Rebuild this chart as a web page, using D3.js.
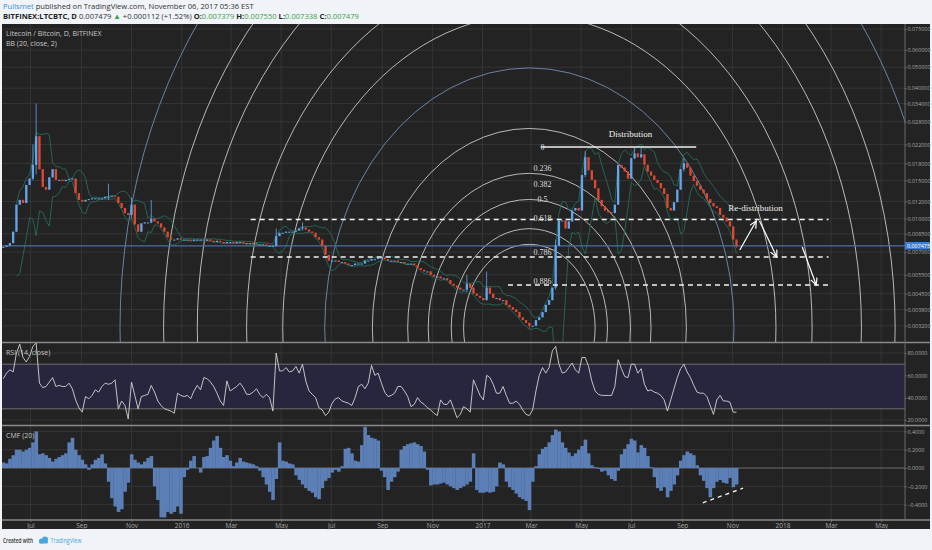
<!DOCTYPE html>
<html>
<head>
<meta charset="utf-8">
<script src="https://d3js.org/d3.v7.min.js"></script>
<style>
  body { margin: 0; background: #f0f3f7; }
  svg { display: block; font-family: "Open Sans", sans-serif; }
</style>
</head>
<body>
<svg id="chart" width="932" height="550"></svg>
<script>
// ---- data (4-day steps from startDate) ----
var startDate = "2015-05-29";
var stepDays = 4;

var closes = [
  0.0074,0.0075,0.0077,0.0087,0.0116,0.0122,0.0118,0.0143,0.0153,0.0177,
  0.0240,0.0169,0.0140,0.0136,0.0155,0.0169,0.0151,0.0151,0.0149,0.0151,
  0.0152,0.0153,0.0131,0.0122,0.0120,0.0122,0.0123,0.0124,0.0124,0.0124,
  0.0124,0.0126,0.0126,0.0127,0.0126,0.0118,0.0112,0.0106,0.0104,0.0116,
  0.0094,0.0087,0.0095,0.0096,0.0096,0.0100,0.0097,0.0095,0.0091,0.0087,
  0.0082,0.0080,0.0080,0.0081,0.0080,0.0080,0.0080,0.0079,0.0080,0.0080,
  0.0080,0.0079,0.0080,0.0079,0.0078,0.0079,0.0078,0.0077,0.0078,0.0078,
  0.0077,0.0078,0.0078,0.0077,0.0077,0.0077,0.0077,0.0076,0.0076,0.0076,
  0.0075,0.0075,0.0075,0.0083,0.0086,0.0086,0.0087,0.0087,0.0087,0.0088,
  0.0090,0.0091,0.0089,0.0087,0.0086,0.0082,0.0080,0.0075,0.0068,0.0064,
  0.0064,0.0064,0.0063,0.0063,0.0062,0.0061,0.0061,0.0062,0.0062,0.0062,
  0.0064,0.0064,0.0065,0.0065,0.0066,0.0066,0.0065,0.0064,0.0064,0.0064,
  0.0063,0.0063,0.0062,0.0062,0.0062,0.0061,0.0059,0.0058,0.0057,0.0057,
  0.0055,0.0054,0.0054,0.0053,0.0053,0.0052,0.0050,0.0049,0.0048,0.0047,
  0.0047,0.0050,0.0048,0.0045,0.0044,0.0043,0.0042,0.0048,0.0045,0.0043,
  0.0043,0.0042,0.0042,0.0040,0.0039,0.0038,0.0037,0.0035,0.0034,0.0033,
  0.0032,0.0032,0.0034,0.0035,0.0037,0.0040,0.0042,0.0048,0.0075,0.0098,
  0.0098,0.0090,0.0097,0.0109,0.0112,0.0109,0.0159,0.0192,0.0167,0.0151,
  0.0138,0.0122,0.0114,0.0109,0.0107,0.0106,0.0116,0.0177,0.0172,0.0165,
  0.0153,0.0190,0.0200,0.0192,0.0198,0.0177,0.0165,0.0158,0.0151,0.0146,
  0.0138,0.0130,0.0112,0.0109,0.0119,0.0136,0.0169,0.0180,0.0172,0.0158,
  0.0149,0.0142,0.0136,0.0131,0.0123,0.0118,0.0114,0.0112,0.0104,0.0101,
  0.0097,0.0092,0.0080,0.007479
];

// [index, high, low] for the candles whose wicks stick out
var wicks = [
  [9, 0.0220, 0.0150], [10, 0.0340, 0.0160], [32, 0.0145, 0.0122],
  [39, 0.0125, 0.0100], [45, 0.0122, 0.0095], [83, 0.0090, 0.0074],
  [91, 0.0096, 0.0088], [141, 0.0055, 0.0046], [147, 0.0057, 0.0043],
  [160, 0.0033, 0.0031], [168, 0.0080, 0.0047], [177, 0.0205, 0.0155],
  [192, 0.0212, 0.0188], [194, 0.0212, 0.0190], [207, 0.0190, 0.0165],
  [223, 0.00755, 0.00734]
];

var rsiValues = [
  57,62,65,63,80,88,76,72,77,86,
  89,53,49,50,54,58,50,51,50,50,
  53,48,38,31,27,41,39,42,47,45,
  50,53,52,53,56,30,37,33,21,54,
  42,30,41,42,43,51,45,37,33,30,
  29,28,26,44,42,41,42,39,46,51,
  47,58,57,54,50,44,37,33,55,46,
  48,50,53,49,43,43,45,48,43,40,
  43,40,28,80,64,64,67,63,64,68,
  62,70,55,46,43,40,31,29,24,27,
  35,39,40,37,36,35,33,40,50,52,
  48,53,69,60,62,53,45,41,42,44,
  50,50,46,41,32,34,40,36,34,31,
  29,26,24,38,34,34,38,30,22,25,
  32,30,27,56,49,42,38,60,58,52,
  44,44,50,42,35,35,37,34,29,25,
  24,29,46,60,67,62,67,82,86,70,
  62,63,67,71,65,62,76,76,68,55,
  46,43,42,42,42,42,50,74,66,59,
  58,70,70,62,66,52,46,47,45,44,
  42,38,28,38,48,58,66,70,63,58,
  51,45,44,44,41,33,25,38,42,37,
  37,36,27,27
];

var cmfValues = [
  0.06,0.05,0.10,0.14,0.20,0.20,0.18,0.20,0.22,0.28,
  0.40,0.15,0.16,0.14,0.11,0.07,0.10,0.12,0.14,0.16,
  0.28,0.33,0.20,0.14,0.09,0.04,-0.02,0.04,0.09,0.11,
  0.15,0.05,-0.15,-0.33,-0.42,-0.48,-0.45,-0.26,-0.16,0.15,
  0.09,0.06,0.04,0.07,0.11,0.13,-0.20,-0.35,-0.54,-0.54,
  -0.48,-0.50,-0.48,-0.42,-0.50,-0.10,-0.02,0.08,0.13,0.00,
  -0.05,0.12,0.13,0.22,0.30,0.35,0.22,0.12,0.14,0.08,
  0.02,0.06,0.11,0.07,0.06,0.05,0.04,0.02,-0.03,-0.10,
  -0.18,-0.26,-0.35,-0.12,0.28,0.08,0.07,0.05,0.04,-0.08,
  -0.13,-0.18,-0.22,-0.25,-0.27,-0.32,-0.34,-0.22,-0.14,-0.11,
  -0.05,-0.02,-0.04,0.02,0.21,0.22,0.16,0.08,0.07,0.25,
  0.45,0.36,0.33,0.32,0.30,-0.03,-0.10,-0.24,-0.15,-0.10,
  -0.04,0.20,0.24,0.26,0.27,0.28,0.26,0.24,0.18,-0.02,
  -0.19,-0.18,-0.18,-0.17,-0.16,-0.18,-0.20,-0.22,-0.24,-0.22,
  -0.20,-0.18,-0.15,0.16,-0.24,-0.27,-0.27,-0.26,-0.27,-0.26,
  -0.20,0.06,0.04,-0.15,-0.21,-0.24,-0.28,-0.32,-0.34,-0.36,
  -0.46,-0.15,0.02,0.15,0.21,0.23,0.28,0.36,0.42,0.40,
  0.28,0.22,0.17,0.13,0.16,0.20,0.24,0.31,0.16,0.03,
  0.01,-0.01,-0.04,-0.03,-0.08,-0.12,-0.14,-0.03,0.15,0.21,
  0.26,0.32,0.30,0.17,0.25,0.22,0.13,0.01,-0.10,-0.22,
  -0.25,-0.21,-0.32,-0.25,-0.18,-0.08,0.08,0.14,0.18,0.16,
  0.14,0.03,-0.08,-0.14,-0.22,-0.32,-0.22,-0.15,-0.13,-0.16,
  -0.17,-0.11,-0.21,-0.18
];

var priceTicks = [0.075, 0.06, 0.05, 0.04, 0.034, 0.028, 0.022, 0.018, 0.015,
                  0.012, 0.010, 0.0085, 0.007, 0.0055, 0.0045, 0.0038, 0.0032];
var rsiTicks = [80, 60, 40, 20];
var cmfTicks = [0.4, 0.2, 0, -0.2, -0.4];
var lastPrice = 0.007475;

// drawings
var fibLevels = ["0", "0.236", "0.382", "0.5", "0.618", "0.786", "0.886"];
var fibHigh = 0.0214, fibLow = 0.00306, fibLabelDate = "2017-03-15";
var arcCenter = { date: "2017-02-27", price: 0.00313 };
var arcRadiiDays = [80, 95, 123, 148, 191, 249, 300, 344, 404, 445, 498];
var blueArcs = [249, 498];
var dashedLevels = [
  { from: "2016-03-25", to: "2018-02-26", price: 0.0099 },
  { from: "2016-03-25", to: "2018-02-26", price: 0.00665 },
  { from: "2017-02-01", to: "2018-02-26", price: 0.00494 }
];
var topLine = { from: "2017-03-13", to: "2017-09-18", price: 0.0214 };
var arrows = [
  { d1: "2017-11-10", p1: 0.00716, d2: "2017-11-30", p2: 0.00975 },
  { d1: "2017-12-04", p1: 0.00975, d2: "2017-12-25", p2: 0.00665 },
  { d1: "2018-01-25", p1: 0.00739, d2: "2018-02-11", p2: 0.00494 }
];
var notes = [
  { text: "Distribution", date: "2017-06-30", price: 0.0246 },
  { text: "Re-distribution", date: "2017-11-29", price: 0.0112 }
];
var cmfTrend = { d1: "2017-09-26", v1: -0.38, d2: "2017-11-14", v2: -0.22 };

// ---- layout ----
var plotRight = 905, panelRight = 930;
var mainTop = 24, mainBottom = 342, rsiTop = 343, rsiBottom = 425, cmfTop = 426, cmfBottom = 520;
var bg = "#232323", grid = "#353535", sep = "#8a8a8a", axisText = "#a8a8a8";

var parse = d3.utcParse("%Y-%m-%d");
var svg = d3.select("#chart");

var x = d3.scaleUtc().domain([parse("2015-05-25"), parse("2018-05-30")]).range([0, plotRight]);
var yMain = d3.scaleLog().domain([0.002693, 0.0783]).range([mainBottom, 25]);
var yRsi = d3.scaleLinear().domain([15.5, 89]).range([rsiBottom, rsiTop]);
var yCmf = d3.scaleLinear().domain([-0.568, 0.448]).range([cmfBottom, 427]);

var dates = closes.map(function(c, i) { return d3.utcDay.offset(parse(startDate), i * stepDays); });
var step = x(dates[1]) - x(dates[0]);

// panel background
svg.append("rect").attr("x", 2).attr("y", mainTop).attr("width", panelRight - 2)
  .attr("height", 529 - mainTop).attr("fill", bg);

var defs = svg.append("defs");
function clip(id, top, bottom) {
  defs.append("clipPath").attr("id", id).append("rect")
    .attr("x", 2).attr("y", top).attr("width", plotRight - 2).attr("height", bottom - top);
}
clip("clipMain", mainTop, mainBottom);
clip("clipRsi", rsiTop, rsiBottom);
clip("clipCmf", cmfTop, cmfBottom);
defs.append("marker").attr("id", "head").attr("markerUnits", "userSpaceOnUse")
  .attr("markerWidth", 10).attr("markerHeight", 10).attr("refX", 7).attr("refY", 3.5)
  .attr("orient", "auto")
  .append("path").attr("d", "M0,0 L7,3.5 L0,7").attr("fill", "none")
  .attr("stroke", "#fff").attr("stroke-width", 1.2);

// vertical grid
var timeTicks = x.ticks(d3.utcMonth.every(2));
svg.append("g").selectAll("line").data(timeTicks).join("line")
  .attr("x1", function(d) { return x(d); }).attr("x2", function(d) { return x(d); })
  .attr("y1", mainTop).attr("y2", cmfBottom).attr("stroke", grid);

// horizontal grids
function hgrid(values, scale, color) {
  svg.append("g").selectAll("line").data(values).join("line")
    .attr("x1", 2).attr("x2", plotRight)
    .attr("y1", function(d) { return scale(d); }).attr("y2", function(d) { return scale(d); })
    .attr("stroke", color);
}
hgrid(priceTicks, yMain, grid);
hgrid(rsiTicks, yRsi, grid);
hgrid(cmfTicks.filter(function(d) { return d !== 0; }), yCmf, grid);

// ---- main pane ----
var main = svg.append("g").attr("clip-path", "url(#clipMain)");

// fib arcs
var cx = x(parse(arcCenter.date)), cy = yMain(arcCenter.price);
function arcRx(r) { return x(d3.utcDay.offset(parse(arcCenter.date), r)) - cx; }
main.append("g").selectAll("ellipse").data(arcRadiiDays).join("ellipse")
  .attr("cx", cx).attr("cy", cy)
  .attr("rx", arcRx)
  .attr("ry", function(r) { return arcRx(r) * 1.27; })
  .attr("fill", "none")
  .attr("stroke", function(r) { return blueArcs.indexOf(r) >= 0 ? "#7594ba" : "#d2d2d2"; })
  .attr("stroke-opacity", 0.85).attr("stroke-width", 1);

// bollinger bands (20 days = 5 steps, 2 sd)
var bbN = 5;
var bands = closes.map(function(c, i) {
  if (i < bbN - 1) return null;
  var win = closes.slice(i - bbN + 1, i + 1);
  var m = d3.mean(win);
  var sd = Math.sqrt(d3.mean(win, function(v) { return (v - m) * (v - m); }));
  return { date: dates[i], upper: m + 2 * sd, lower: m - 2 * sd };
});
["upper", "lower"].forEach(function(k) {
  main.append("path")
    .datum(bands)
    .attr("fill", "none").attr("stroke", "#256b5c").attr("stroke-width", 0.9)
    .attr("d", d3.line()
      .defined(function(d) { return d && d[k] > 0.0015; })
      .x(function(d) { return x(d.date); })
      .y(function(d) { return yMain(Math.max(d[k], 0.0015)); }));
});

// current price line
main.append("line").attr("x1", 2).attr("x2", plotRight)
  .attr("y1", yMain(lastPrice)).attr("y2", yMain(lastPrice))
  .attr("stroke", "#4d6ea3").attr("stroke-width", 1.2);

// candles
var wickAt = {};
wicks.forEach(function(w) { wickAt[w[0]] = w; });
var candles = closes.map(function(c, i) {
  var o = i ? closes[i - 1] : c;
  var w = wickAt[i];
  return {
    date: dates[i], open: o, close: c,
    high: Math.max(o, c, w ? w[1] : 0),
    low: Math.min(o, c, w ? w[2] : 1)
  };
});
var upColor = "#63a6ec", downColor = "#e14a30";
var cg = main.append("g");
var cw = step * 0.7;
cg.selectAll("line").data(candles).join("line")
  .attr("x1", function(d) { return x(d.date); }).attr("x2", function(d) { return x(d.date); })
  .attr("y1", function(d) { return yMain(d.high); }).attr("y2", function(d) { return yMain(d.low); })
  .attr("stroke", function(d) { return d.close >= d.open ? upColor : downColor; })
  .attr("stroke-width", 0.8);
cg.selectAll("rect").data(candles).join("rect")
  .attr("x", function(d) { return x(d.date) - cw / 2; }).attr("width", cw)
  .attr("y", function(d) { return yMain(Math.max(d.open, d.close)); })
  .attr("height", function(d) { return Math.max(1, Math.abs(yMain(d.open) - yMain(d.close))); })
  .attr("fill", function(d) { return d.close >= d.open ? upColor : downColor; });

// dashed levels
main.append("g").selectAll("line").data(dashedLevels).join("line")
  .attr("x1", function(d) { return x(parse(d.from)); }).attr("x2", function(d) { return x(parse(d.to)); })
  .attr("y1", function(d) { return yMain(d.price); }).attr("y2", function(d) { return yMain(d.price); })
  .attr("stroke", "#f2f2f2").attr("stroke-width", 1.6).attr("stroke-dasharray", "5,4");

// distribution top line
main.append("line")
  .attr("x1", x(parse(topLine.from))).attr("x2", x(parse(topLine.to)))
  .attr("y1", yMain(topLine.price)).attr("y2", yMain(topLine.price))
  .attr("stroke", "#f2f2f2").attr("stroke-width", 1.3);

// fib labels
main.append("g").selectAll("text").data(fibLevels).join("text")
  .attr("x", x(parse(fibLabelDate)))
  .attr("y", function(l) { return yMain(fibHigh - (+l) * (fibHigh - fibLow)); })
  .attr("dy", "0.33em").attr("text-anchor", "middle")
  .attr("font-family", "'Liberation Serif', serif").attr("font-size", 8)
  .attr("fill", "#dedede").text(function(l) { return l; });

// notes
main.append("g").selectAll("text").data(notes).join("text")
  .attr("x", function(d) { return x(parse(d.date)); })
  .attr("y", function(d) { return yMain(d.price); })
  .attr("dy", "0.33em").attr("text-anchor", "middle")
  .attr("font-family", "'Liberation Serif', serif").attr("font-size", 9)
  .attr("fill", "#f0f0f0").text(function(d) { return d.text; });

// arrows
main.append("g").selectAll("line").data(arrows).join("line")
  .attr("x1", function(d) { return x(parse(d.d1)); }).attr("y1", function(d) { return yMain(d.p1); })
  .attr("x2", function(d) { return x(parse(d.d2)); }).attr("y2", function(d) { return yMain(d.p2); })
  .attr("stroke", "#fff").attr("stroke-width", 1.2).attr("marker-end", "url(#head)");

// legend
svg.append("text").attr("x", 6).attr("y", 35.5).attr("font-size", 7).attr("fill", "#c8c8c8")
  .text("Litecoin / Bitcoin, D, BITFINEX");
svg.append("text").attr("x", 6).attr("y", 45.5).attr("font-size", 7).attr("fill", "#c8c8c8")
  .text("BB (20, close, 2)");

// ---- RSI pane ----
var rsi = svg.append("g").attr("clip-path", "url(#clipRsi)");
rsi.append("rect").attr("x", 2).attr("width", plotRight - 2)
  .attr("y", yRsi(70)).attr("height", yRsi(30) - yRsi(70)).attr("fill", "#28263f");
[70, 30].forEach(function(v) {
  rsi.append("line").attr("x1", 2).attr("x2", plotRight).attr("y1", yRsi(v)).attr("y2", yRsi(v))
    .attr("stroke", "#6e6e6e");
});
rsi.append("path").datum(rsiValues)
  .attr("fill", "none").attr("stroke", "#d4d4d4").attr("stroke-width", 0.9)
  .attr("d", d3.line().x(function(d, i) { return x(dates[i]); }).y(function(d) { return yRsi(d); }));
svg.append("text").attr("x", 6).attr("y", 354.5).attr("font-size", 7).attr("fill", "#c8c8c8")
  .text("RSI (14, close)");

// ---- CMF pane ----
var cmf = svg.append("g").attr("clip-path", "url(#clipCmf)");
cmf.append("line").attr("x1", 2).attr("x2", plotRight).attr("y1", yCmf(0)).attr("y2", yCmf(0))
  .attr("stroke", "#6e6e6e");
cmf.append("g").selectAll("rect").data(cmfValues).join("rect")
  .attr("x", function(d, i) { return x(dates[i]) - step / 2; })
  .attr("width", step + 0.3)
  .attr("y", function(d) { return yCmf(Math.max(0, d)); })
  .attr("height", function(d) { return Math.abs(yCmf(d) - yCmf(0)); })
  .attr("fill", "#5b7fb6");
cmf.append("line")
  .attr("x1", x(parse(cmfTrend.d1))).attr("y1", yCmf(cmfTrend.v1))
  .attr("x2", x(parse(cmfTrend.d2))).attr("y2", yCmf(cmfTrend.v2))
  .attr("stroke", "#f2f2f2").attr("stroke-width", 1.4).attr("stroke-dasharray", "4,4");
svg.append("text").attr("x", 6).attr("y", 437.5).attr("font-size", 7).attr("fill", "#c8c8c8")
  .text("CMF (20)");

// pane separators and right edge
[mainBottom + 0.5, rsiBottom + 0.5, cmfBottom].forEach(function(yy) {
  svg.append("line").attr("x1", 2).attr("x2", panelRight).attr("y1", yy).attr("y2", yy)
    .attr("stroke", sep).attr("stroke-width", 1.3);
});
svg.append("line").attr("x1", plotRight).attr("x2", plotRight).attr("y1", mainTop).attr("y2", cmfBottom)
  .attr("stroke", "#6a6a6a");

// ---- axes ----
function styleAxis(g) {
  g.select(".domain").remove();
  g.selectAll(".tick line").attr("stroke", "#777");
  g.selectAll(".tick text").attr("fill", axisText).attr("font-size", 5.4)
    .attr("font-family", "'Open Sans', sans-serif");
}
svg.append("g").attr("transform", "translate(" + plotRight + ",0)")
  .call(d3.axisRight(yMain).tickValues(priceTicks).tickFormat(d3.format(".6f")).tickSize(1.5).tickPadding(1))
  .call(styleAxis);
svg.append("g").attr("transform", "translate(" + plotRight + ",0)")
  .call(d3.axisRight(yRsi).tickValues(rsiTicks).tickFormat(d3.format(".4f")).tickSize(1.5).tickPadding(1))
  .call(styleAxis);
svg.append("g").attr("transform", "translate(" + plotRight + ",0)")
  .call(d3.axisRight(yCmf).tickValues(cmfTicks).tickFormat(d3.format(".4f")).tickSize(1.5).tickPadding(1))
  .call(styleAxis);

// last price tag
var tagY = yMain(lastPrice);
svg.append("rect").attr("x", plotRight).attr("y", tagY - 4).attr("width", 25).attr("height", 7.5)
  .attr("fill", "#3b7fd8");
svg.append("text").attr("x", plotRight + 2).attr("y", tagY).attr("dy", "0.33em")
  .attr("font-size", 5.4).attr("fill", "#fff")
  .text(d3.format(".6f")(lastPrice));

// time axis
var fmtMonth = d3.utcFormat("%b"), fmtYear = d3.utcFormat("%Y");
svg.append("g").attr("transform", "translate(0," + cmfBottom + ")")
  .call(d3.axisBottom(x).tickValues(timeTicks).tickSize(2).tickPadding(1)
    .tickFormat(function(d) { return d.getUTCMonth() === 0 ? fmtYear(d) : fmtMonth(d); }))
  .call(styleAxis)
  .selectAll(".tick text").attr("font-size", 6.5);

// ---- header and footer ----
var header1 = [["Pullsmet", "#3a8fd8", 400], [" published on TradingView.com, November 06, 2017 05:36 EST", "#333", 400]];
var header2 = [
  ["BITFINEX:LTCBTC, D ", "#222", 700], ["0.007479 ", "#333", 400], ["\u25B2", "#3aa04b", 400],
  [" +0.000112 (+1.52%) ", "#333", 400],
  ["O:", "#222", 700], ["0.007379 ", "#3aa04b", 400],
  ["H:", "#222", 700], ["0.007550 ", "#3aa04b", 400],
  ["L:", "#222", 700], ["0.007338 ", "#3aa04b", 400],
  ["C:", "#222", 700], ["0.007479", "#3aa04b", 400]
];
function headerLine(parts, yy, size) {
  svg.append("text").attr("x", 3).attr("y", yy).attr("font-size", size).attr("xml:space", "preserve")
    .selectAll("tspan").data(parts).join("tspan")
    .attr("fill", function(d) { return d[1]; }).attr("font-weight", function(d) { return d[2]; })
    .text(function(d) { return d[0]; });
}
headerLine(header1, 9, 7.6);
headerLine(header2, 18.5, 7.6);

svg.append("text").attr("x", 3).attr("y", 543).attr("font-size", 6.8).attr("font-weight", 600)
  .attr("fill", "#333").attr("textLength", 30).attr("lengthAdjust", "spacingAndGlyphs")
  .text("Created with");
var logo = svg.append("g").attr("fill", "#49a6dd");
logo.append("circle").attr("cx", 41.5).attr("cy", 541).attr("r", 2.5);
logo.append("circle").attr("cx", 45).attr("cy", 539.6).attr("r", 3);
logo.append("rect").attr("x", 39).attr("y", 540.6).attr("width", 9).attr("height", 3).attr("rx", 1.5);
svg.append("text").attr("x", 50.5).attr("y", 543).attr("font-size", 6.8).attr("fill", "#49a6dd")
  .attr("textLength", 31).attr("lengthAdjust", "spacingAndGlyphs")
  .text("TradingView");
</script>
</body>
</html>
